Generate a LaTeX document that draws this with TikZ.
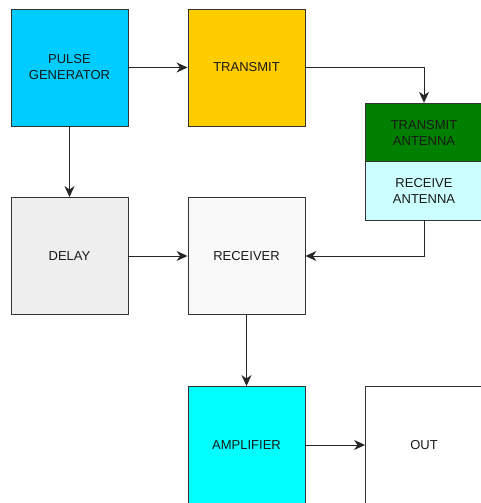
\documentclass[tikz,border=0pt]{standalone}
\usepackage{xcolor}
\usepackage{fontspec}
\setmainfont{Liberation Sans}
\usepackage{tikz}
\usetikzlibrary{arrows.meta, calc}

\definecolor{pulseblue}{HTML}{00CCFF}
\definecolor{txyellow}{HTML}{FFCC00}
\definecolor{antgreen}{HTML}{007F00}
\definecolor{antcyan}{HTML}{CCFFFF}
\definecolor{delaygray}{HTML}{EEEEEE}
\definecolor{rxgray}{HTML}{F9F9F9}
\definecolor{ampcyan}{HTML}{00FFFF}
\definecolor{edgegray}{HTML}{333333}

\tikzset{
    block/.style={draw=edgegray, line width=0.9pt, minimum width=117pt, minimum height=117pt,
        align=center, inner sep=0pt, font=\fontsize{13}{16}\selectfont, text=black!90},
    halfblock/.style={block, minimum width=118pt, minimum height=58.5pt},
    link/.style={draw=black!85, line width=0.9pt, -{Stealth[length=11pt, width=10pt, inset=3.5pt]}}
}

\begin{document}
\begin{tikzpicture}[x=1pt, y=-1pt]
    \useasboundingbox (0,0) rectangle (481,503);

    % Top row
    \node[block, fill=pulseblue] (pulse) at (69.5,67.5) {PULSE\\GENERATOR};
    \node[block, fill=txyellow] (transmit) at (246.5,67.5) {TRANSMIT};

    % Antenna stack
    \node[halfblock, fill=antgreen] (txant) at (424,132.5) {TRANSMIT\\ANTENNA};
    \node[halfblock, fill=antcyan] (rxant) at (424,191) {RECEIVE\\ANTENNA};

    % Middle row
    \node[block, fill=delaygray] (delay) at (69.5,256) {DELAY};
    \node[block, fill=rxgray] (receiver) at (246.5,256) {RECEIVER};

    % Bottom row
    \node[block, fill=ampcyan] (amplifier) at (246.5,445) {AMPLIFIER};
    \node[block, fill=white] (out) at (424,445) {OUT};

    % Connections
    \draw[link] (pulse.east) -- (transmit.west);
    \draw[link] (transmit.east) -| (txant.north);
    \draw[link] (pulse.south) -- (delay.north);
    \draw[link] (delay.east) -- (receiver.west);
    \draw[link] (rxant.south) |- (receiver.east);
    \draw[link] (receiver.south) -- (amplifier.north);
    \draw[link] (amplifier.east) -- (out.west);
\end{tikzpicture}
\end{document}
